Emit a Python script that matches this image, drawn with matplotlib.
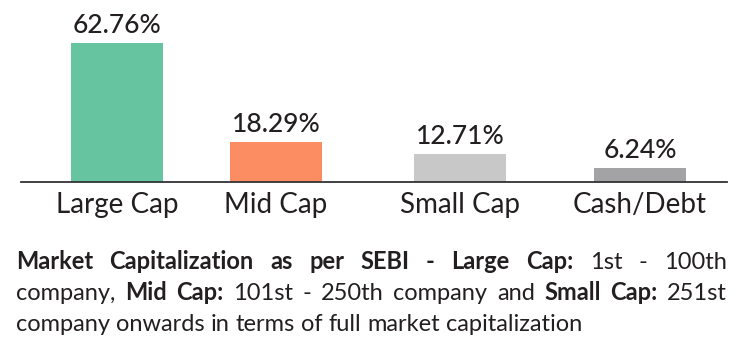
import matplotlib
matplotlib.use("Agg")
import matplotlib.pyplot as plt

# -- data --
categories = ["Large Cap", "Mid Cap", "Small Cap", "Cash/Debt"]
shares     = [62.76, 18.29, 12.71, 6.24]
colors     = ["#66c5a0", "#fc8d62", "#c8c8c8", "#a3a3a5"]

note_lines = [
    [("Market Capitalization as per SEBI - Large Cap:", True), ("1st - 100th", False)],
    [("company,", False), ("Mid Cap:", True), ("101st - 250th company and", False),
     ("Small Cap:", True), ("251st", False)],
    [("company onwards in terms of full market capitalization", False)],
]

TEXT = "#231f20"
FONT = "Lato"
W, H = 742, 361

# bar slots (uneven spacing, as in the original layout)
bar_x = [0, 0.912, 1.968, 3.0]

fig = plt.figure(figsize=(W / 100, H / 100), dpi=100, facecolor="white")
ax = fig.add_axes([21 / W, 1 - 182 / H, (727 - 21) / W, 182 / H])

ax.bar(bar_x, shares, width=0.53, color=colors, zorder=2)
for xi, v in zip(bar_x, shares):
    ax.text(xi, v + 2.2, f"{v:.2f}%", ha="center", va="bottom",
            fontsize=19, color=TEXT, family=FONT, fontweight="medium")

ax.set_xlim(-0.551, 3.499)
ax.set_ylim(0, 82.2)
for s in ["top", "left", "right"]:
    ax.spines[s].set_visible(False)
ax.spines["bottom"].set_color("#333333")
ax.spines["bottom"].set_linewidth(1.3)
ax.set_yticks([])
ax.set_xticks(bar_x)
ax.set_xticklabels(categories, fontsize=20, color=TEXT, family=FONT)
ax.tick_params(axis="x", length=0, pad=7)

# -- footnote, justified --
renderer = fig.canvas.get_renderer()
left_px, right_px = 16, 727
baselines = [269, 300, 331]
fs = 17

for li, segs in enumerate(note_lines):
    words = []
    for txt, bold in segs:
        for w in txt.split(" "):
            words.append((w, bold))
    widths = []
    for w, bold in words:
        t = fig.text(0, 0, w, fontsize=fs, family=FONT,
                     fontweight="bold" if bold else "normal")
        widths.append(t.get_window_extent(renderer).width)
        t.remove()
    if li < len(note_lines) - 1:
        gap = (right_px - left_px - sum(widths)) / (len(words) - 1)
    else:
        sp = fig.text(0, 0, "a a", fontsize=fs, family=FONT)
        sa = fig.text(0, 0, "aa", fontsize=fs, family=FONT)
        gap = sp.get_window_extent(renderer).width - sa.get_window_extent(renderer).width
        sp.remove(); sa.remove()
    xp = left_px
    for (w, bold), wd in zip(words, widths):
        fig.text(xp / W, 1 - baselines[li] / H, w, fontsize=fs, family=FONT,
                 fontweight="bold" if bold else "normal", color=TEXT,
                 va="baseline", ha="left")
        xp += wd + gap

fig.savefig("out.png", dpi=100, facecolor="white")
